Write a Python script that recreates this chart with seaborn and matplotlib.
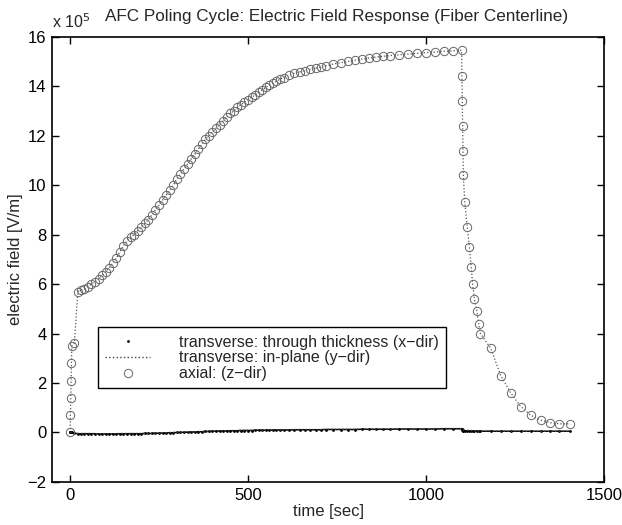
import matplotlib
matplotlib.use("Agg")
import matplotlib.pyplot as plt
import seaborn as sns
import numpy as np

# ---------------- data (field values in units of 1e5 V/m) ----------------
time_s = [
    0, 1, 2, 3, 4, 5, 12, 22, 30, 40,
    50, 60, 70, 80, 90, 100, 110, 120, 130, 140,
    150, 160, 170, 180, 190, 200, 210, 220, 230, 240,
    250, 260, 270, 280, 290, 300, 310, 320, 330, 340,
    350, 360, 370, 380, 390, 400, 410, 420, 430, 440,
    450, 460, 470, 480, 490, 500, 510, 520, 530, 540,
    550, 560, 570, 580, 590, 600, 615, 630, 645, 660,
    675, 690, 705, 720, 740, 760, 780, 800, 820, 840,
    860, 880, 900, 925, 950, 975, 1000, 1025, 1050, 1075,
    1100, 1101, 1102, 1103, 1104, 1105, 1109, 1116, 1122, 1127,
    1131, 1136, 1143, 1148, 1153, 1182, 1210, 1238, 1266, 1294,
    1322, 1348, 1375, 1405,
]

axial_z = [
    0.0, 0.7, 1.4, 2.1, 2.8, 3.5, 3.6, 5.7, 5.75, 5.8,
    5.9, 6.0, 6.1, 6.2, 6.35, 6.5, 6.65, 6.85, 7.05, 7.3,
    7.55, 7.75, 7.9, 8.0, 8.15, 8.3, 8.45, 8.6, 8.8, 9.0,
    9.2, 9.4, 9.6, 9.8, 10.0, 10.25, 10.45, 10.65, 10.85, 11.05,
    11.25, 11.45, 11.65, 11.85, 12.0, 12.15, 12.3, 12.45, 12.6, 12.75,
    12.9, 13.0, 13.15, 13.25, 13.35, 13.45, 13.55, 13.65, 13.75, 13.85,
    13.95, 14.05, 14.12, 14.2, 14.28, 14.35, 14.45, 14.52, 14.58, 14.63,
    14.68, 14.73, 14.78, 14.83, 14.9, 14.95, 15.0, 15.05, 15.1, 15.14,
    15.18, 15.21, 15.24, 15.27, 15.3, 15.33, 15.36, 15.38, 15.41, 15.43,
    15.45, 14.4, 13.4, 12.4, 11.4, 10.4, 9.3, 8.3, 7.5, 6.7,
    6.0, 5.4, 4.9, 4.4, 4.0, 3.4, 2.3, 1.6, 1.05, 0.7,
    0.5, 0.4, 0.35, 0.35,
]

trans_x = [
    0.0, 0.0, 0.0, 0.0, 0.0, 0.0, -0.03, -0.05, -0.05, -0.05,
    -0.05, -0.05, -0.05, -0.06, -0.06, -0.06, -0.06, -0.06, -0.06, -0.05,
    -0.05, -0.05, -0.05, -0.05, -0.05, -0.05, -0.04, -0.04, -0.04, -0.03,
    -0.03, -0.02, -0.02, -0.01, -0.01, 0.0, 0.0, 0.01, 0.01, 0.02,
    0.02, 0.03, 0.03, 0.04, 0.04, 0.05, 0.05, 0.06, 0.06, 0.06,
    0.07, 0.07, 0.07, 0.08, 0.08, 0.08, 0.08, 0.09, 0.09, 0.09,
    0.09, 0.1, 0.1, 0.1, 0.1, 0.1, 0.1, 0.11, 0.11, 0.11,
    0.11, 0.11, 0.11, 0.12, 0.12, 0.12, 0.12, 0.12, 0.13, 0.13,
    0.13, 0.13, 0.13, 0.14, 0.14, 0.14, 0.14, 0.14, 0.15, 0.15,
    0.15, 0.13, 0.11, 0.09, 0.08, 0.07, 0.06, 0.06, 0.05, 0.05,
    0.05, 0.05, 0.05, 0.05, 0.05, 0.05, 0.05, 0.05, 0.05, 0.05,
    0.05, 0.05, 0.05, 0.05,
]

trans_y = [
    0.0, 0.0, 0.0, 0.0, 0.0, 0.0, -0.02, -0.04, -0.04, -0.04,
    -0.04, -0.04, -0.05, -0.05, -0.05, -0.05, -0.05, -0.05, -0.05, -0.04,
    -0.04, -0.04, -0.04, -0.04, -0.04, -0.04, -0.03, -0.03, -0.03, -0.02,
    -0.02, -0.01, -0.01, 0.0, 0.0, 0.01, 0.01, 0.02, 0.02, 0.03,
    0.03, 0.04, 0.04, 0.05, 0.05, 0.06, 0.06, 0.07, 0.07, 0.07,
    0.08, 0.08, 0.08, 0.09, 0.09, 0.09, 0.09, 0.1, 0.1, 0.1,
    0.1, 0.11, 0.11, 0.11, 0.11, 0.11, 0.11, 0.12, 0.12, 0.12,
    0.12, 0.12, 0.12, 0.13, 0.13, 0.13, 0.13, 0.13, 0.14, 0.14,
    0.14, 0.14, 0.14, 0.15, 0.15, 0.15, 0.15, 0.15, 0.16, 0.16,
    0.16, 0.15, 0.14, 0.13, 0.12, 0.11, 0.1, 0.09, 0.08, 0.08,
    0.07, 0.07, 0.07, 0.06, 0.06, 0.06, 0.05, 0.05, 0.05, 0.05,
    0.05, 0.05, 0.05, 0.05,
]

series_labels = [
    "transverse: through thickness (x\u2212dir)",
    "transverse: in-plane (y\u2212dir)",
    "axial: (z\u2212dir)",
]
x_ticks = [0, 500, 1000, 1500]
y_ticks = [-2, 0, 2, 4, 6, 8, 10, 12, 14, 16]

# ---------------- style ----------------
sns.set_theme(style="ticks")
plt.rcParams["font.family"] = ["Liberation Sans", "DejaVu Sans"]
plt.rcParams["axes.unicode_minus"] = True

fig = plt.figure(figsize=(6.22, 5.25), dpi=100)
ax = fig.add_axes([0.084, 0.082, 0.887, 0.848])

t = np.array(time_s)
tx = np.array(trans_x)
ty = np.array(trans_y)
az = np.array(axial_z)

# connecting lines (not in legend)
sns.lineplot(x=t, y=tx, ax=ax, estimator=None, sort=False,
             color="black", linewidth=1.1, linestyle="-", label="_nolegend_")
sns.lineplot(x=t, y=az, ax=ax, estimator=None, sort=False,
             color="#555555", linewidth=0.9, linestyle=":", label="_nolegend_")

# legend-bearing series
sns.lineplot(x=t, y=tx, ax=ax, estimator=None, sort=False,
             color="black", linestyle="", marker=".", markersize=4,
             markeredgewidth=0, label=series_labels[0])
sns.lineplot(x=t, y=ty, ax=ax, estimator=None, sort=False,
             color="#444444", linewidth=1.0, linestyle=":",
             label=series_labels[1])
sns.lineplot(x=t, y=az, ax=ax, estimator=None, sort=False,
             color="#666666", linestyle="", marker="o",
             markersize=6.0, markerfacecolor="none", markeredgecolor="#666666",
             markeredgewidth=0.7, label=series_labels[2])

ax.set_xlim(-50, 1500)
ax.set_ylim(-2, 16)
ax.set_xticks(x_ticks)
ax.set_yticks(y_ticks)
ax.set_xticklabels([str(v) for v in x_ticks])
ax.set_yticklabels([str(v).replace("-", "\u2212") for v in y_ticks])
ax.tick_params(direction="in", length=5, width=1, top=True, right=True,
               labelsize=12, colors="black", pad=4)
for s in ax.spines.values():
    s.set_visible(True)
    s.set_color("black")
    s.set_linewidth(1.2)

ax.set_xlabel("time [sec]", fontsize=12, labelpad=1)
ax.set_ylabel("electric field [V/m]", fontsize=12, labelpad=3)
ax.set_title("AFC Poling Cycle: Electric Field Response (Fiber Centerline)",
             fontsize=12.3, pad=11, x=0.515)
ax.text(0.0, 1.012, "x 10$^{5}$", transform=ax.transAxes, fontsize=11.5,
        ha="left", va="bottom")

leg = ax.legend(loc="lower left", bbox_to_anchor=(0.083, 0.21),
                fontsize=11.5, frameon=True, fancybox=False, framealpha=1,
                edgecolor="black", handlelength=2.8, handletextpad=1.8,
                labelspacing=0.05, borderpad=0.45, borderaxespad=0,
                numpoints=1)
leg.get_frame().set_linewidth(1.0)

fig.savefig("out.png", dpi=100)
